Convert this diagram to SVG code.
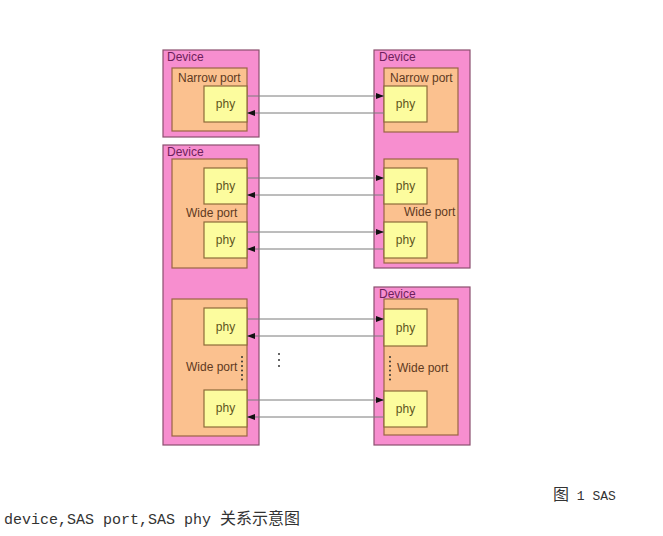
<svg xmlns="http://www.w3.org/2000/svg" width="663" height="536" viewBox="0 0 663 536">
<style>
.dev{fill:#f78ecf;stroke:#8b4f6e;stroke-width:1.2}
.port{fill:#fbc18f;stroke:#9a6445;stroke-width:1.2}
.phy{fill:#fcfc9e;stroke:#8c6b3a;stroke-width:1.2}
.t{font-family:"Liberation Sans",Arial,sans-serif;font-size:12px}
.td{fill:#6e1f5c}
.tp{fill:#5e3a22}
.th{fill:#5e5420;text-anchor:middle}
.ln{stroke:#7a7a7a;stroke-width:1;fill:none}
.dot{fill:#333}
.cap{font-family:"Liberation Mono","Noto Sans CJK SC",monospace;font-size:15px;fill:#333}
.cj{font-family:"Noto Sans CJK SC",serif;font-size:16px}
</style>
<defs>
<marker id="ah" viewBox="0 0 8 6" refX="8" refY="3" markerWidth="8" markerHeight="6" markerUnits="userSpaceOnUse" orient="auto">
<path d="M0,0 L8,3 L0,6 z" fill="#111"/>
</marker>
</defs>

<g id="device-left-top">
<rect class="dev" x="163" y="50" width="96" height="87"/>
<text class="t td" x="167" y="61">Device</text>
<g id="port-left-narrow">
<rect class="port" x="172" y="68" width="75" height="63"/>
<text class="t tp" x="178" y="82">Narrow port</text>
<g id="phy-lt"><rect class="phy" x="204" y="86" width="43" height="36"/><text class="t th" x="225.5" y="108">phy</text></g>
</g>
</g>

<g id="device-right-top">
<rect class="dev" x="374" y="50" width="96" height="218"/>
<text class="t td" x="379" y="61">Device</text>
<g id="port-right-narrow">
<rect class="port" x="384" y="68" width="74" height="64"/>
<text class="t tp" x="390" y="82">Narrow port</text>
<g id="phy-rt"><rect class="phy" x="384" y="86" width="43" height="36"/><text class="t th" x="405.5" y="108">phy</text></g>
</g>
<g id="port-right-wide1">
<rect class="port" x="384" y="159" width="74" height="104"/>
<text class="t tp" x="404" y="216">Wide port</text>
<g id="phy-r1"><rect class="phy" x="384" y="168" width="43" height="36"/><text class="t th" x="405.5" y="190">phy</text></g>
<g id="phy-r2"><rect class="phy" x="384" y="222" width="43" height="36"/><text class="t th" x="405.5" y="244">phy</text></g>
</g>
</g>

<g id="device-left-big">
<rect class="dev" x="163" y="145" width="96" height="300"/>
<text class="t td" x="167" y="156">Device</text>
<g id="port-left-wide1">
<rect class="port" x="172" y="159" width="75" height="109"/>
<text class="t tp" x="186" y="217">Wide port</text>
<g id="phy-l1"><rect class="phy" x="204" y="168" width="43" height="36"/><text class="t th" x="225.5" y="190">phy</text></g>
<g id="phy-l2"><rect class="phy" x="204" y="222" width="43" height="36"/><text class="t th" x="225.5" y="244">phy</text></g>
</g>
<g id="port-left-wide2">
<rect class="port" x="172" y="299" width="75" height="137"/>
<text class="t tp" x="186" y="371">Wide port</text>
<g id="phy-l3"><rect class="phy" x="204" y="308" width="43" height="37"/><text class="t th" x="225.5" y="331">phy</text></g>
<g id="phy-l4"><rect class="phy" x="204" y="390" width="43" height="37"/><text class="t th" x="225.5" y="412">phy</text></g>
<g id="dots-left">
<circle class="dot" cx="242" cy="357" r="1"/><circle class="dot" cx="242" cy="361.5" r="1"/><circle class="dot" cx="242" cy="366" r="1"/><circle class="dot" cx="242" cy="370.5" r="1"/><circle class="dot" cx="242" cy="375" r="1"/><circle class="dot" cx="242" cy="379.5" r="1"/>
</g>
</g>
</g>

<g id="device-right-bottom">
<rect class="dev" x="374" y="287" width="96" height="158"/>
<text class="t td" x="379" y="298">Device</text>
<g id="port-right-wide2">
<rect class="port" x="384" y="299" width="74" height="136"/>
<text class="t tp" x="397" y="372">Wide port</text>
<g id="phy-r3"><rect class="phy" x="384" y="309" width="43" height="37"/><text class="t th" x="405.5" y="332">phy</text></g>
<g id="phy-r4"><rect class="phy" x="384" y="391" width="43" height="36"/><text class="t th" x="405.5" y="413">phy</text></g>
<g id="dots-right">
<circle class="dot" cx="390" cy="357" r="1"/><circle class="dot" cx="390" cy="361.5" r="1"/><circle class="dot" cx="390" cy="366" r="1"/><circle class="dot" cx="390" cy="370.5" r="1"/><circle class="dot" cx="390" cy="375" r="1"/><circle class="dot" cx="390" cy="379.5" r="1"/>
</g>
</g>
</g>

<g id="dots-middle">
<circle class="dot" cx="279" cy="354" r="1"/><circle class="dot" cx="279" cy="360" r="1"/><circle class="dot" cx="279" cy="366" r="1"/>
</g>

<g id="connectors">
<line class="ln" x1="247" y1="96" x2="384" y2="96" marker-end="url(#ah)"/>
<line class="ln" x1="384" y1="113" x2="247" y2="113" marker-end="url(#ah)"/>
<line class="ln" x1="247" y1="178" x2="384" y2="178" marker-end="url(#ah)"/>
<line class="ln" x1="384" y1="195" x2="247" y2="195" marker-end="url(#ah)"/>
<line class="ln" x1="247" y1="232" x2="384" y2="232" marker-end="url(#ah)"/>
<line class="ln" x1="384" y1="249" x2="247" y2="249" marker-end="url(#ah)"/>
<line class="ln" x1="247" y1="319" x2="384" y2="319" marker-end="url(#ah)"/>
<line class="ln" x1="384" y1="336" x2="247" y2="336" marker-end="url(#ah)"/>
<line class="ln" x1="247" y1="400" x2="384" y2="400" marker-end="url(#ah)"/>
<line class="ln" x1="384" y1="417" x2="247" y2="417" marker-end="url(#ah)"/>
</g>

<g id="caption">
<text class="cap" x="553" y="500" style="font-size:13px"><tspan class="cj">图</tspan> 1 SAS</text>
<text class="cap" x="4" y="524">device,SAS port,SAS phy <tspan class="cj">关系示意图</tspan></text>
</g>
</svg>
